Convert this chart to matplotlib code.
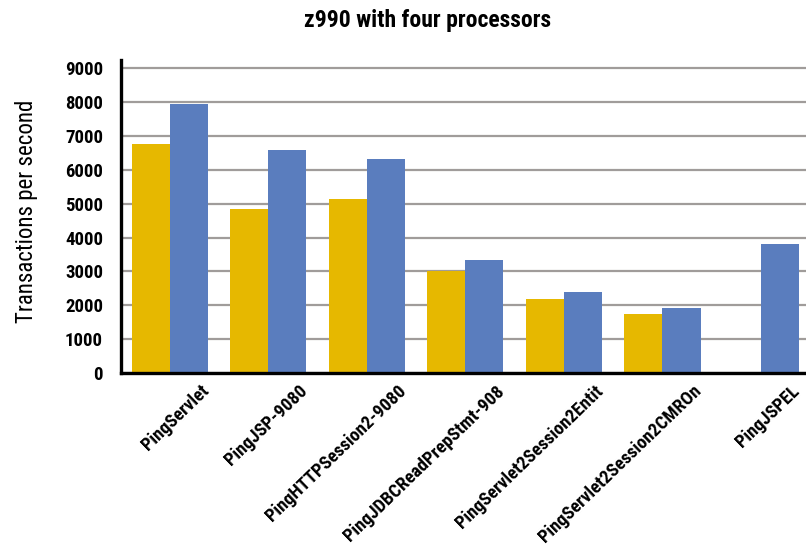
import matplotlib
matplotlib.use("Agg")
import matplotlib.pyplot as plt
import matplotlib.transforms as mtransforms
import numpy as np

categories = ["PingServlet", "PingJSP-9080", "PingHTTPSession2-9080",
              "PingJDBCReadPrepStmt-908", "PingServlet2Session2Entit",
              "PingServlet2Session2CMROn", "PingJSPEL"]
series_a = [6770, 4860, 5150, 3000, 2175, 1730, 0]
series_b = [7950, 6600, 6335, 3325, 2380, 1910, 3800]
yticks = [0, 1000, 2000, 3000, 4000, 5000, 6000, 7000, 8000, 9000]

FONT = ["Roboto Condensed", "DejaVu Sans"]
plt.rcParams['font.family'] = FONT

fig = plt.figure(figsize=(8.06, 5.46), dpi=100)
ax = fig.add_axes([121/806, 1-373/546, 685/806, 313/546])

x = np.arange(len(categories))
w = 0.386
ax.bar(x - w/2, series_a, width=w, color="#E6B800", zorder=3)
ax.bar(x + w/2, series_b, width=w, color="#5A7DBE", zorder=3)

ax.set_xlim(-0.497, 6.457)
ax.set_ylim(0, 9250)
ax.set_yticks(yticks)
ax.set_yticklabels([str(v) for v in yticks], fontsize=13.5, fontweight="bold")
ax.yaxis.grid(True, color="#A09C9A", linewidth=1.6, zorder=0)
ax.set_axisbelow(True)
ax.tick_params(axis="both", length=0)
ax.tick_params(axis="y", pad=13)

for s in ["top", "right"]:
    ax.spines[s].set_visible(False)
for s in ["left", "bottom"]:
    ax.spines[s].set_linewidth(2.4)
    ax.spines[s].set_color("black")
    ax.spines[s].set_zorder(5)

ax.set_xticks(x)
ax.set_xticklabels(categories, rotation=44, ha="right", va="top",
                   rotation_mode="anchor", fontsize=13.3, fontweight="bold")
offset = mtransforms.ScaledTranslation(30/100, -4/100, fig.dpi_scale_trans)
for lbl in ax.get_xticklabels():
    lbl.set_transform(lbl.get_transform() + offset)

fig.text(27/806, 1-211/546, "Transactions per second", rotation=90,
         ha="center", va="center", fontsize=16.5)
fig.text(428/806, 1-21/546, "z990 with four processors", ha="center",
         va="center", fontsize=17, fontweight="bold")

fig.savefig("out.png", dpi=100)
